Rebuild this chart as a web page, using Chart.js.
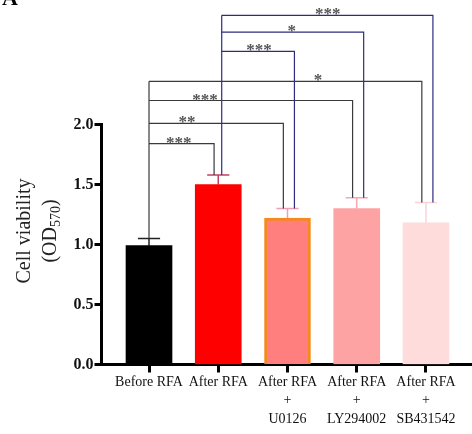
<!DOCTYPE html>
<html lang="en">
<head>
<meta charset="UTF-8">
<title>Cell viability</title>
<style>
  html, body { margin: 0; padding: 0; background: #fff; }
  #wrap { width: 472px; height: 434px; }
</style>
<script src="https://cdn.jsdelivr.net/npm/chart.js"></script>
</head>
<body>
<div id="wrap"><canvas id="chart" width="472" height="434"></canvas></div>
<script>
// groups on the x axis (multi-line labels)
const categories = [
  ['Before RFA'],
  ['After RFA'],
  ['After RFA', '+', 'U0126'],
  ['After RFA', '+', 'LY294002'],
  ['After RFA', '+', 'SB431542']
];
const means = [0.99, 1.50, 1.22, 1.30, 1.18];
const errTop = [1.05, 1.58, 1.30, 1.39, 1.35];

// y ticks
const yMin = 0, yMax = 2.0, yStep = 0.5;

// significance brackets
const bracketFrom = [0, 0, 0, 0, 1, 1, 1];
const bracketTo = [1, 2, 3, 4, 2, 3, 4];
const bracketHeight = [1.84, 2.01, 2.20, 2.36, 2.61, 2.77, 2.91];
const bracketStars = ['***', '**', '***', '*', '***', '*', '***'];
const starAt = [0.43, 0.55, 0.81, 2.44, 1.59, 2.06, 2.58];

const barColors = ['#000000', '#ff0000', '#ff7f7f', '#fea3a3', '#ffdcdc'];
const barBorders = ['#000000', '#ff0000', '#f5891e', '#fea3a3', '#ffdcdc'];
const barBorderW = [0, 0, 3, 0, 0];
const errColors = ['#222222', '#c8405e', '#f0a0b4', '#f4a8b0', '#f8d4da'];
const bracketColors = ['#3a3a3a', '#2c2c80'];

const extras = {
  id: 'extras',
  beforeDatasetsDraw(chart) {
    const ctx = chart.ctx, xs = chart.scales.x, ys = chart.scales.y;
    ctx.save();
    ctx.lineWidth = 1.5;
    means.forEach((m, i) => {
      const x = xs.getPixelForValue(i);
      const y0 = ys.getPixelForValue(m);
      const y1 = ys.getPixelForValue(errTop[i]);
      const xl = xs.getPixelForValue(i - 0.16);
      const xr = xs.getPixelForValue(i + 0.16);
      ctx.strokeStyle = errColors[i];
      ctx.beginPath();
      ctx.moveTo(x, y0); ctx.lineTo(x, y1);
      ctx.moveTo(xl, y1); ctx.lineTo(xr, y1);
      ctx.stroke();
    });
    ctx.restore();
  },
  afterDraw(chart) {
    const ctx = chart.ctx, xs = chart.scales.x, ys = chart.scales.y;
    ctx.save();
    ctx.lineWidth = 1.2;
    // left verticals of each bracket group
    [0, 1].forEach(g => {
      const hs = bracketHeight.filter((h, k) => bracketFrom[k] === g);
      const x = xs.getPixelForValue(g + (g === 0 ? 0 : 0.05));
      ctx.strokeStyle = bracketColors[g];
      ctx.beginPath();
      ctx.moveTo(x, ys.getPixelForValue(Math.max(...hs)));
      ctx.lineTo(x, ys.getPixelForValue(errTop[g]));
      ctx.stroke();
    });
    bracketFrom.forEach((f, k) => {
      const g = f;
      const xl = xs.getPixelForValue(f + (g === 0 ? 0 : 0.05));
      const xr = xs.getPixelForValue(bracketTo[k] + (g === 0 ? -0.06 : 0.1));
      const y = ys.getPixelForValue(bracketHeight[k]);
      ctx.strokeStyle = bracketColors[g];
      ctx.beginPath();
      ctx.moveTo(xl, y); ctx.lineTo(xr, y);
      ctx.lineTo(xr, ys.getPixelForValue(errTop[bracketTo[k]]));
      ctx.stroke();
      ctx.fillStyle = '#555';
      ctx.font = 'bold 17px "Liberation Serif"';
      ctx.textAlign = 'center';
      ctx.textBaseline = 'alphabetic';
      ctx.fillText(bracketStars[k], xs.getPixelForValue(starAt[k]), y + 4);
    });

    // y axis title with subscript
    ctx.fillStyle = '#222';
    ctx.save();
    ctx.translate(25, 231);
    ctx.rotate(-Math.PI / 2);
    ctx.font = '20px "Liberation Serif"';
    ctx.textAlign = 'center';
    ctx.textBaseline = 'middle';
    ctx.fillText('Cell viability', 0, 0);
    ctx.restore();
    ctx.save();
    ctx.translate(51, 231);
    ctx.rotate(-Math.PI / 2);
    ctx.textBaseline = 'middle';
    ctx.textAlign = 'left';
    const big = '20px "Liberation Serif"', small = '14px "Liberation Serif"';
    ctx.font = big;
    const w1 = ctx.measureText('(OD').width, w3 = ctx.measureText(')').width;
    ctx.font = small;
    const w2 = ctx.measureText('570').width;
    let x = -(w1 + w2 + w3) / 2;
    ctx.font = big; ctx.fillText('(OD', x, 0); x += w1;
    ctx.font = small; ctx.fillText('570', x, 5); x += w2;
    ctx.font = big; ctx.fillText(')', x, 0);
    ctx.restore();

    // panel letter, mostly cut off at the top
    ctx.fillStyle = '#000';
    ctx.font = 'bold 22px "Liberation Serif"';
    ctx.textAlign = 'left';
    ctx.textBaseline = 'alphabetic';
    ctx.fillText('A', 2, 5);
    ctx.restore();
  }
};

new Chart(document.getElementById('chart'), {
  type: 'bar',
  data: {
    datasets: [{
      data: means.map((v, i) => ({ x: i, y: v })),
      backgroundColor: barColors,
      borderColor: barBorders,
      borderWidth: barBorderW,
      barThickness: 46
    }]
  },
  options: {
    responsive: false,
    animation: false,
    events: [],
    layout: { padding: { top: 124.5, left: 0, right: 1, bottom: 0 } },
    plugins: { legend: { display: false }, tooltip: { enabled: false } },
    scales: {
      x: {
        type: 'linear',
        offset: false,
        min: -0.686,
        max: 4.65,
        afterFit(s) { s.height = 69.5; },
        border: { display: true, color: '#000', width: 3 },
        grid: { offset: false, drawOnChartArea: false, color: '#000', tickLength: 8, tickWidth: 3, tickColor: '#000' },
        ticks: {
          stepSize: 1,
          includeBounds: false,
          autoSkip: false,
          maxRotation: 0,
          padding: 1,
          color: '#111',
          font: { family: '"Liberation Serif"', size: 14, lineHeight: 1.3 },
          callback: v => Number.isInteger(v) && categories[v] ? categories[v] : ''
        }
      },
      y: {
        min: yMin,
        max: yMax,
        afterFit(s) { s.width = 101.5; },
        border: { display: true, color: '#000', width: 3 },
        grid: { drawOnChartArea: false, color: '#000', tickLength: 7, tickWidth: 3, tickColor: '#000' },
        ticks: {
          stepSize: yStep,
          padding: 1,
          color: '#111',
          font: { family: '"Liberation Serif"', size: 16, weight: 'bold' },
          callback: v => v.toFixed(1)
        }
      }
    }
  },
  plugins: [extras]
});
</script>
</body>
</html>
